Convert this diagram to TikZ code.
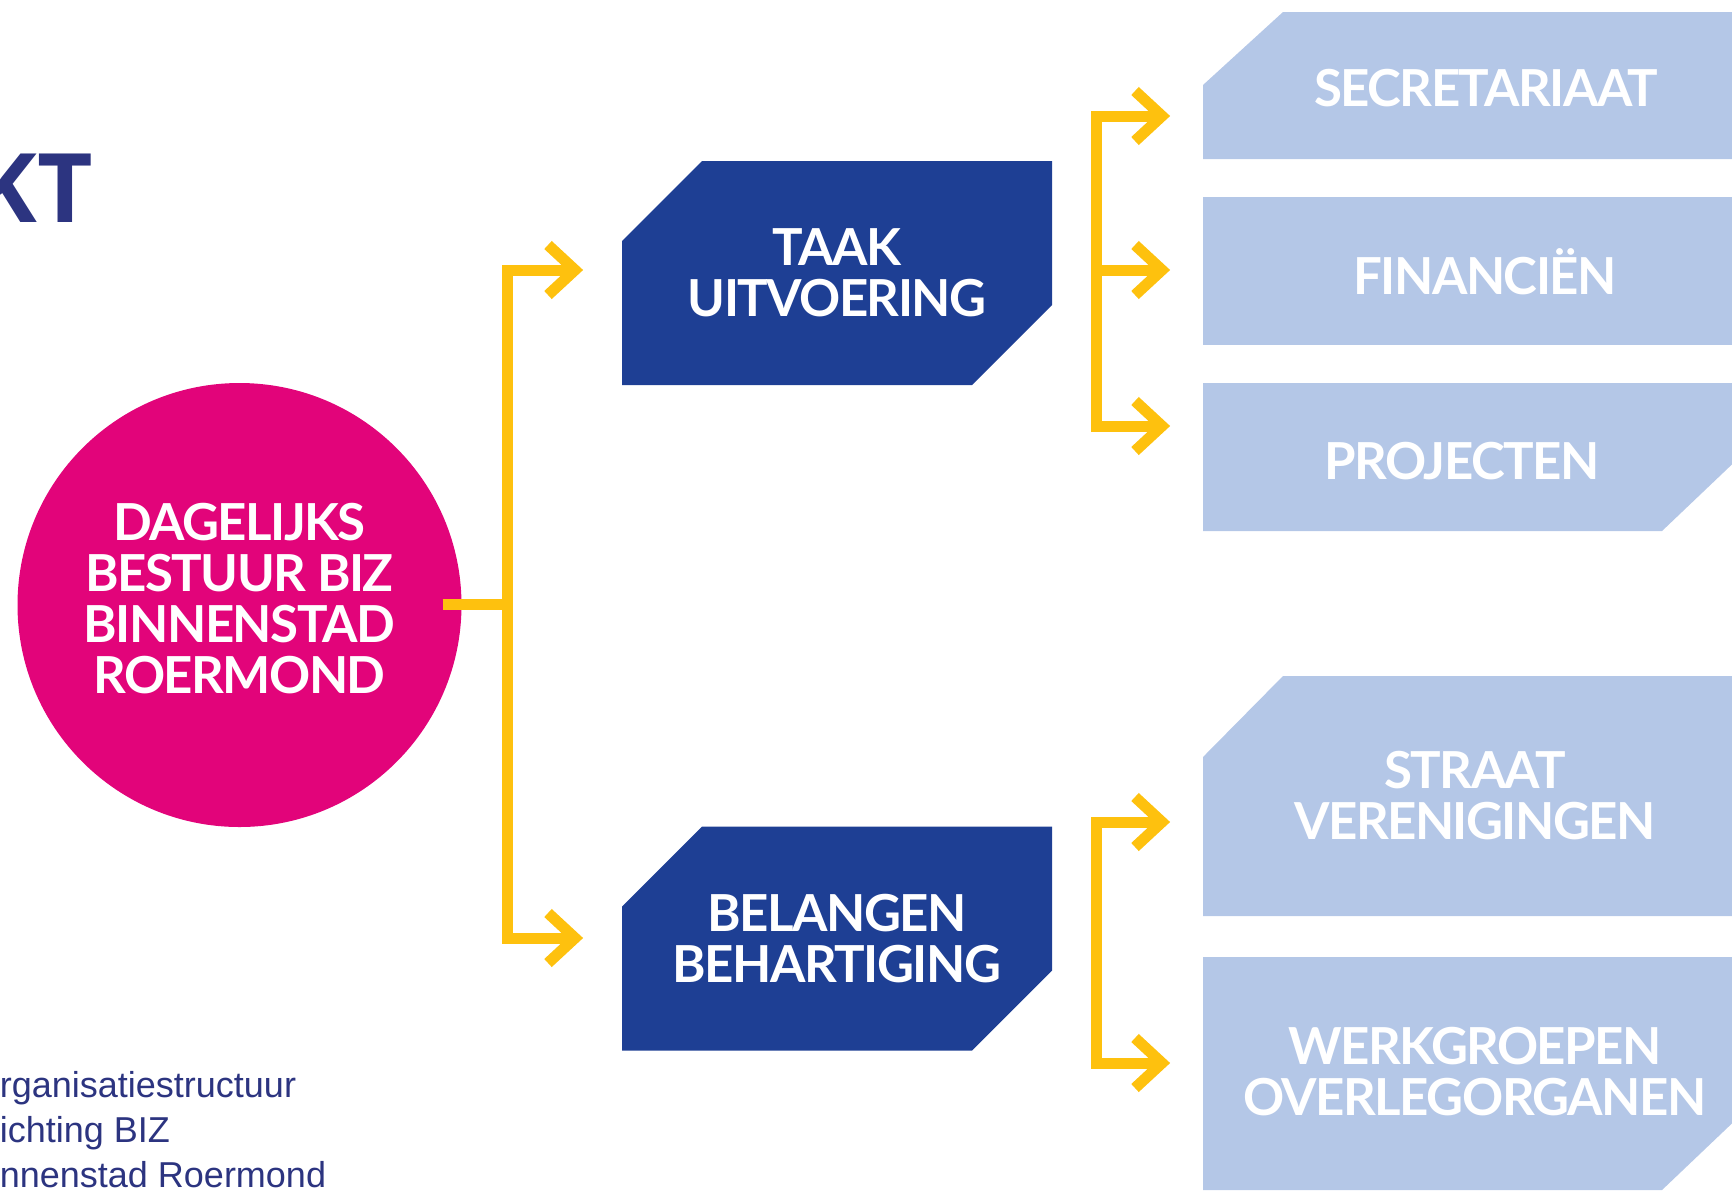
\documentclass[tikz,border=0pt]{standalone}
\usepackage{fontspec}
\setmainfont{Liberation Sans}
\newfontfamily\boxfont[LetterSpace=-3]{Lato}
\newfontfamily\headfont{Open Sans}
\usetikzlibrary{calc,backgrounds}
\definecolor{pinkc}{HTML}{E2047A}
\definecolor{dblue}{HTML}{1E3F94}
\definecolor{lblue}{HTML}{B4C7E7}
\definecolor{yel}{HTML}{FEC10E}
\definecolor{navy}{HTML}{2C3480}
\begin{document}
\begin{tikzpicture}[x=0.5pt,y=-0.5pt,
  yline/.style={draw=yel, line width=5.5pt, line join=miter, line cap=butt},
  btext/.style={font=\boxfont\bfseries\fontsize{25.5pt}{25.5pt}\selectfont, text=white, align=center, inner sep=0pt, outer sep=0pt},
  dbox/.style={btext, minimum width=215pt, minimum height=112pt},
  lbox/.style={minimum width=271pt, inner sep=0pt, outer sep=0pt},
  captxt/.style={anchor=base west, inner sep=0pt, font=\fontsize{18pt}{22.5pt}\selectfont, text=navy}]
\useasboundingbox (0,0) rectangle (1732,1190);
\clip (0,0) rectangle (1732,1190);

% heading fragment and caption
\node[anchor=base east, inner sep=0pt, font=\headfont\bfseries\fontsize{48pt}{48pt}\selectfont, text=navy] (kt) at (93,222) {KT};
\node[captxt] (cap1) at (-0.5,1097) {rganisatiestructuur};
\node[captxt] (cap2) at (-0.5,1142) {ichting BIZ};
\node[captxt] (cap3) at (-0.5,1187) {nnenstad Roermond};

% main circle
\node[circle, fill=pinkc, minimum size=222pt, btext, text depth=7pt] (dbb) at (239.5,605)
  {DAGELIJKS\\BESTUUR BIZ\\BINNENSTAD\\ROERMOND};

% dark boxes
\node[dbox] (taak) at (837,273) {TAAK\\UITVOERING};
\node[dbox] (bel) at (837,938.5) {BELANGEN\\BEHARTIGING};

% light boxes
\node[lbox, minimum height=73.5pt] (sec) at (1474,85.5) {};
\node[lbox, minimum height=74pt] (fin) at (1474,271) {};
\node[lbox, minimum height=74pt] (prj) at (1474,457) {};
\node[lbox, minimum height=120pt] (str) at (1474,796) {};
\node[lbox, minimum height=116.5pt] (wrk) at (1474,1073.5) {};

\begin{scope}[on background layer]
  \foreach \b in {taak,bel}
    \fill[dblue] ($(\b.north west)+(0,80)$) -- ($(\b.north west)+(80,0)$) -- (\b.north east)
      -- ($(\b.south east)+(0,-80)$) -- ($(\b.south east)+(-80,0)$) -- (\b.south west) -- cycle;
  \fill[lblue] ($(sec.north west)+(0,73)$) -- ($(sec.north west)+(80,0)$) -- (sec.north east) -- (sec.south east) -- (sec.south west) -- cycle;
  \fill[lblue] (fin.north west) rectangle (fin.south east);
  \fill[lblue] (prj.north west) -- (prj.north east) -- ($(prj.south east)+(0,-79)$) -- ($(prj.south east)+(-83,0)$) -- (prj.south west) -- cycle;
  \fill[lblue] ($(str.north west)+(0,81)$) -- ($(str.north west)+(80,0)$) -- (str.north east) -- (str.south east) -- (str.south west) -- cycle;
  \fill[lblue] (wrk.north west) -- (wrk.north east) -- ($(wrk.south east)+(0,-79)$) -- ($(wrk.south east)+(-83,0)$) -- (wrk.south west) -- cycle;
\end{scope}

% light box texts
\node[btext, anchor=base] (sect) at (1486,106) {SECRETARIAAT};
\node[btext, anchor=base] (fint) at (1485,294) {FINANCIËN};
\node[btext, anchor=base] (prjt) at (1462,479) {PROJECTEN};
\node[btext] (strt) at (1475,795.5) {STRAAT\\VERENIGINGEN};
\node[btext] (wrkt) at (1475,1072) {WERKGROEPEN\\OVERLEGORGANEN};

% connectors, left tree
\coordinate (jL) at (507,604);
\coordinate (tT) at ($(taak.west)+(-47,-3)$);
\coordinate (tB) at ($(bel.west)+(-47,-0.5)$);
\draw[yline] ($(dbb.east)+(-19,-1)$) -- (jL);
\draw[yline] (jL) |- (tT);
\draw[yline] (jL) |- (tB);

% connectors, upper right tree
\coordinate (rS) at ($(sec.west)+(-41,30.5)$);
\coordinate (rF) at ($(fin.west)+(-41,-1)$);
\coordinate (rP) at ($(prj.west)+(-41,-31)$);
\coordinate (jR) at (1096,270);
\draw[yline] (rS) -| (jR) |- (rP);
\draw[yline] (jR) -- (rF);

% connectors, lower right tree
\coordinate (rSt) at ($(str.west)+(-41,26)$);
\coordinate (rW) at ($(wrk.west)+(-41,-10.5)$);
\coordinate (jR2) at (1096,942);
\draw[yline] (rSt) -| (jR2) |- (rW);

% chevron heads
\foreach \t in {tT,tB,rS,rF,rP,rSt,rW}
  \draw[yline] ($(\t)+(-27,-25)$) -- (\t) -- ($(\t)+(-27,25)$);
\end{tikzpicture}
\end{document}
